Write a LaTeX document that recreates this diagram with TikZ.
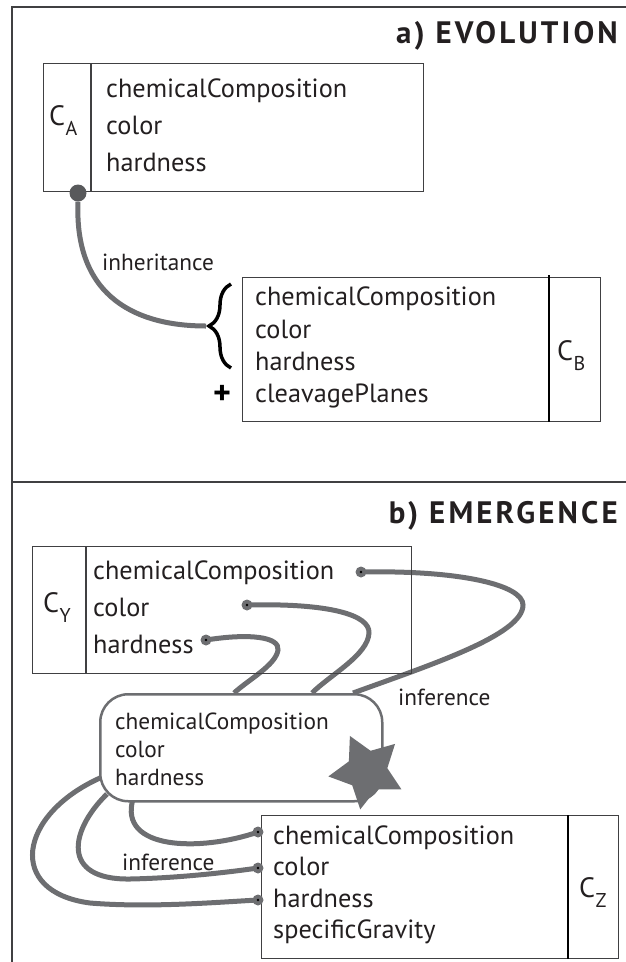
\documentclass[tikz,border=0pt]{standalone}
\usepackage{fontspec}
\setmainfont{PT Sans}
\usepackage{tikz}
\usetikzlibrary{shapes.geometric, decorations.pathreplacing, backgrounds, positioning}
\definecolor{linkcolor}{RGB}{109, 110, 113}
\definecolor{dotcolor}{RGB}{88, 89, 91}
\definecolor{framecolor}{RGB}{64, 64, 66}
\definecolor{textcolor}{RGB}{35, 31, 32}
\newcommand{\clsname}[1]{C\kern0.5pt\raisebox{-10pt}{\fontsize{20}{20}\selectfont #1}}

\begin{document}
\begin{tikzpicture}[
    x=1pt, y=-1pt,
    classbox/.style={draw=framecolor, line width=1.4pt, inner sep=0pt, anchor=north west},
    attr/.style={anchor=base west, inner sep=0pt, text=textcolor, font=\fontsize{26.3}{30}\selectfont},
    note/.style={anchor=base west, inner sep=0pt, text=textcolor, font=\fontsize{23.3}{27}\selectfont},
    classname/.style={anchor=base west, inner sep=0pt, text=textcolor, font=\fontsize{28}{32}\selectfont},
    paneltitle/.style={anchor=base east, inner sep=0pt, text=textcolor, font=\fontsize{31}{36}\selectfont\bfseries\addfontfeature{LetterSpace=10}},
    link/.style={draw=linkcolor, line width=5pt},
    attrdot/.style={circle, fill=linkcolor, minimum size=11pt, inner sep=0pt,
        path picture={\fill[black] (path picture bounding box.center) circle (1.3pt);}},
]
    \useasboundingbox (0,0) rectangle (626,962);

    % Frame
    \draw[framecolor, line width=1.5pt] (12,962) -- (12,7) -- (626,7);
    \draw[framecolor, line width=1.5pt] (12,482) -- (626,482);
    \node[paneltitle] (title-a) at (618,43) {a) EVOLUTION};
    \node[paneltitle] (title-b) at (618,523) {b) EMERGENCE};

    % a) class A
    \node[classbox, minimum width=380, minimum height=128] (ca) at (43,63) {};
    \draw[framecolor, line width=1.4pt] ([xshift=48]ca.north west) -- ([xshift=48]ca.south west);
    \node[classname] (ca-name) at (49,125) {\clsname{A}};
    \node[attr] (ca-chem) at (106,97) {chemicalComposition};
    \node[attr] (ca-color) at (106,134) {color};
    \node[attr] (ca-hard) at (106,171) {hardness};
    \node[circle, fill=dotcolor, minimum size=17, inner sep=0pt] (ca-dot) at (78,193) {};

    % a) class B
    \node[classbox, minimum width=358, minimum height=144] (cb) at (242,277) {};
    \draw[black, line width=2pt] ([xshift=307,yshift=2]cb.north west) -- ([xshift=307]cb.south west);
    \node[classname] (cb-name) at (557,360) {\clsname{B}};
    \node[attr] (cb-chem) at (255,305) {chemicalComposition};
    \node[attr] (cb-color) at (255,338) {color};
    \node[attr] (cb-hard) at (255,370) {hardness};
    \node[attr] (cb-cleave) at (255,402) {cleavagePlanes};
    \node[inner sep=0pt, text=black, font=\fontsize{34}{38}\selectfont\bfseries] (plus) at (222,395) {+};

    % a) inheritance
    \coordinate (brace-tip) at (206,326);
    \draw[black, line width=3.5pt, decorate, decoration={brace, amplitude=22pt}] (231,368) -- (231,284);
    \draw[link] (ca-dot.south) .. controls (74,300) and (140,326) .. (brace-tip);
    \node[note] (inherit) at (102,270) {inheritance};

    % b) class Y
    \node[classbox, minimum width=379, minimum height=127] (cy) at (32,546) {};
    \draw[framecolor, line width=1.4pt] ([xshift=54]cy.north west) -- ([xshift=54]cy.south west);
    \node[classname] (cy-name) at (43,612) {\clsname{Y}};
    \node[attr] (cy-chem) at (93,579) {chemicalComposition};
    \node[attr] (cy-color) at (93,616) {color};
    \node[attr] (cy-hard) at (93,653) {hardness};

    % b) emergent set
    \node[draw=linkcolor, line width=2.5pt, rounded corners=28pt, fill=white, minimum width=282, minimum height=107, anchor=north west] (mix) at (99,693) {};
    \node[note] (mix-chem) at (115,729) {chemicalComposition};
    \node[note] (mix-color) at (115,757) {color};
    \node[note] (mix-hard) at (115,785) {hardness};
    \node[star, star points=5, star point ratio=1.9, minimum size=78, inner sep=0pt, fill=linkcolor, shape border rotate=26] (spark) at (367,771) {};

    % b) class Z
    \node[classbox, minimum width=357, minimum height=143] (cz) at (261,815) {};
    \draw[black, line width=2pt] ([xshift=307]cz.north west) -- ([xshift=307]cz.south west);
    \node[classname] (cz-name) at (579,897) {\clsname{Z}};
    \node[attr] (cz-chem) at (273,844) {chemicalComposition};
    \node[attr] (cz-color) at (273,875) {color};
    \node[attr] (cz-hard) at (273,907) {hardness};
    \node[attr] (cz-grav) at (273,938) {specificGravity};

    % b) inference
    \node[attrdot] (y-chem) at (361,572) {};
    \node[attrdot] (y-color) at (247,605) {};
    \node[attrdot] (y-hard) at (206,640) {};
    \node[attrdot] (z-chem) at (258,832) {};
    \node[attrdot] (z-color) at (258,868) {};
    \node[attrdot] (z-hard) at (258,900) {};
    \coordinate (mix-in1) at (353,693);
    \coordinate (mix-in2) at (312,693);
    \coordinate (mix-in3) at (234,693);
    \coordinate (mix-out1) at (133,799);
    \coordinate (mix-out2) at (107,794);
    \coordinate (mix-out3) at (100,778);
    \begin{scope}[on background layer]
        \draw[link] (y-chem.center) .. controls (460,570) and (523,585) .. (523,605)
            .. controls (523,635) and (430,665) .. (mix-in1);
        \draw[link] (y-color.center) .. controls (330,603) and (370,615) .. (369,633)
            .. controls (368,655) and (330,675) .. (mix-in2);
        \draw[link] (y-hard.center) .. controls (250,633) and (280,637) .. (278,650)
            .. controls (276,665) and (248,680) .. (mix-in3);
        \draw[link] (mix-out1) .. controls (118,850) and (200,852) .. (z-chem.center);
        \draw[link] (mix-out2) .. controls (70,830) and (60,880) .. (130,879)
            .. controls (180,878) and (230,872) .. (z-color.center);
        \draw[link] (mix-out3) .. controls (18,815) and (6,892) .. (90,903)
            .. controls (150,908) and (220,902) .. (z-hard.center);
    \end{scope}
    \node[note] (infer-1) at (398,705) {inference};
    \node[note] (infer-2) at (122,870) {inference};

\end{tikzpicture}
\end{document}
